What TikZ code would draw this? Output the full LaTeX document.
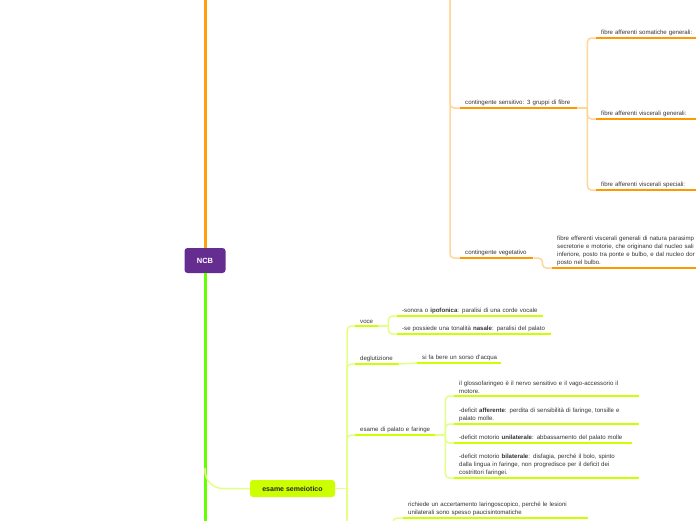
\documentclass[tikz,border=0pt]{standalone}
\usepackage{xcolor}
\usepackage{fontspec}
\setmainfont{Liberation Sans}
\usepackage{tikz}
\usetikzlibrary{positioning}

\definecolor{ncbpurple}{HTML}{662D91}
\definecolor{trunkorange}{HTML}{FF9E0F}
\definecolor{barorange}{HTML}{FF9900}
\definecolor{lightorange}{HTML}{FFD699}
\definecolor{trunkgreen}{HTML}{66FF00}
\definecolor{limefill}{HTML}{CCFF00}
\definecolor{lightlime}{HTML}{E3FF85}
\definecolor{txt}{HTML}{333333}
\newcommand{\mapsize}{\fontsize{6.1}{7.9}\selectfont}

\begin{document}
\begin{tikzpicture}[
  x=1pt, y=-1pt,
  topic/.style={
    anchor=south west,
    align=left,
    inner xsep=5pt,
    inner ysep=2pt,
    text=txt,
    font=\mapsize
  },
  root/.style={
    fill=ncbpurple,
    rounded corners=3pt,
    text=white,
    font=\fontsize{7.5}{9}\selectfont\bfseries,
    minimum width=41pt,
    minimum height=25pt
  },
  mainbox/.style={
    fill=limefill,
    rounded corners=3pt,
    text=black!85,
    font=\fontsize{7}{8}\selectfont\bfseries,
    minimum width=85pt,
    minimum height=17pt
  },
  otrunk/.style={trunkorange, line width=3pt},
  gtrunk/.style={trunkgreen, line width=3pt},
  obar/.style={barorange, line width=2.6pt},
  gbar/.style={limefill, line width=2.6pt},
  olink/.style={lightorange, line width=1.5pt, rounded corners=4pt},
  glink/.style={lightlime, line width=1.5pt, rounded corners=4pt}
]
\useasboundingbox (0,0) rectangle (696,520);

% Central topic and its two trunks.
\node[root] (ncb) at (205,260.5) {NCB};
\coordinate (top) at (205,-5);
\coordinate (bot) at (205,525);
\draw[otrunk] (ncb.north) -- (top);
\draw[gtrunk] (ncb.south) -- (bot);

% Upper (orange) part: contingents of the nerve.
\coordinate (oj) at (450,-5);
\node[topic, text width=107pt] (sens) at (460,108) {\mbox{contingente sensitivo: 3 gruppi di fibre}};
\node[topic, text width=63pt] (veg) at (460,258) {\mbox{contingente vegetativo}};

\node[topic, text width=110pt] (soma) at (596,38) {fibre afferenti somatiche generali:};
\node[topic, text width=110pt] (vgen) at (596,119) {fibre afferenti viscerali generali:};
\node[topic, text width=110pt] (vspe) at (596,190) {fibre afferenti viscerali speciali:};

\node[topic, text width=200pt] (eff) at (552,268)
{fibre efferenti viscerali generali di natura parasimp\\
secretorie e motorie, che originano dal nucleo sali\\
inferiore, posto tra ponte e bulbo, e dal nucleo dor\\
posto nel bulbo.};

\draw[olink] (oj) |- (sens.south west);
\draw[olink] (oj) |- (veg.south west);
\draw[olink] (sens.south east) -- ++(10,0) coordinate (sj);
\draw[olink] (sj) |- (soma.south west);
\draw[olink] (sj) |- (vgen.south west);
\draw[olink] (sj) |- (vspe.south west);
\draw[olink] (veg.south east) -- ++(9,0) |- (eff.south west);

\draw[obar] (sens.south west) -- (sens.south east);
\draw[obar] (veg.south west) -- (veg.south east);
\draw[obar] (soma.south west) -- (soma.south east);
\draw[obar] (vgen.south west) -- (vgen.south east);
\draw[obar] (vspe.south west) -- (vspe.south east);
\draw[obar] (eff.south west) -- (eff.south east);

% Lower (green) part: the examination.
\node[mainbox] (sem) at (292.5,488.5) {esame semeiotico};
\draw[glink, rounded corners=18pt] (ncb.south |- 0,468) |- (sem.west);

\node[topic, text width=13pt] (voce) at (355,326) {\mbox{voce}};
\node[topic, text width=34pt] (degl) at (355,364) {\mbox{deglutizione}};
\node[topic, text width=70pt] (pal) at (355,435) {\mbox{esame di palato e faringe}};

\node[topic, text width=136pt] (son) at (397,316)
{\mbox{-sonora o \textbf{ipofonica}: paralisi di una corde vocale}};
\node[topic, text width=144pt] (nas) at (397,334)
{\mbox{-se possiede una tonalità \textbf{nasale}: paralisi del palato}};
\node[topic, text width=74pt] (sorso) at (417,363) {\mbox{si fa bere un sorso d'acqua}};

\node[topic, text width=175pt] (glos) at (454,396)
{il glossofaringeo è il nervo sensitivo e il vago-accessorio il\\
motore.};
\node[topic, text width=175pt] (aff) at (454,424)
{-deficit \textbf{afferente}: perdita di sensibilità di faringe, tonsille e\\
palato molle.};
\node[topic, text width=168pt] (uni) at (454,443)
{\mbox{-deficit motorio \textbf{unilaterale}: abbassamento del palato molle}};
\node[topic, text width=175pt] (bil) at (454,478)
{-deficit motorio \textbf{bilaterale}: disfagia, perché il bolo, spinto\\
dalla lingua in faringe, non progredisce per il deficit dei\\
costrittori faringei.};
\node[topic, text width=175pt] (lar) at (403,518)
{richiede un accertamento laringoscopico, perché le lesioni\\
unilaterali sono spesso paucisintomatiche};

\draw[glink] (sem.east) -- ++(12,0) coordinate (ej);
\draw[glink] (ej) |- (voce.south west);
\draw[glink] (ej) |- (degl.south west);
\draw[glink] (ej) |- (pal.south west);
\draw[glink] (ej) -- ++(0,40);

\draw[glink] (voce.south east) -- ++(10,0) coordinate (vj);
\draw[glink] (vj) |- (son.south west);
\draw[glink] (vj) |- (nas.south west);
\draw[glink] (degl.south east) -- (sorso.south west);

\draw[glink] (pal.south east) -- ++(10,0) coordinate (pj);
\draw[glink] (pj) |- (glos.south west);
\draw[glink] (pj) |- (aff.south west);
\draw[glink] (pj) |- (uni.south west);
\draw[glink] (pj) |- (bil.south west);

\coordinate (lj) at (393,530);
\draw[glink] (lj) |- (lar.south west);

\draw[gbar] (voce.south west) -- (voce.south east);
\draw[gbar] (degl.south west) -- (degl.south east);
\draw[gbar] (pal.south west) -- (pal.south east);
\draw[gbar] (son.south west) -- (son.south east);
\draw[gbar] (nas.south west) -- (nas.south east);
\draw[gbar] (sorso.south west) -- (sorso.south east);
\draw[gbar] (glos.south west) -- (glos.south east);
\draw[gbar] (aff.south west) -- (aff.south east);
\draw[gbar] (uni.south west) -- (uni.south east);
\draw[gbar] (bil.south west) -- (bil.south east);
\draw[gbar] (lar.south west) -- (lar.south east);

\end{tikzpicture}
\end{document}
